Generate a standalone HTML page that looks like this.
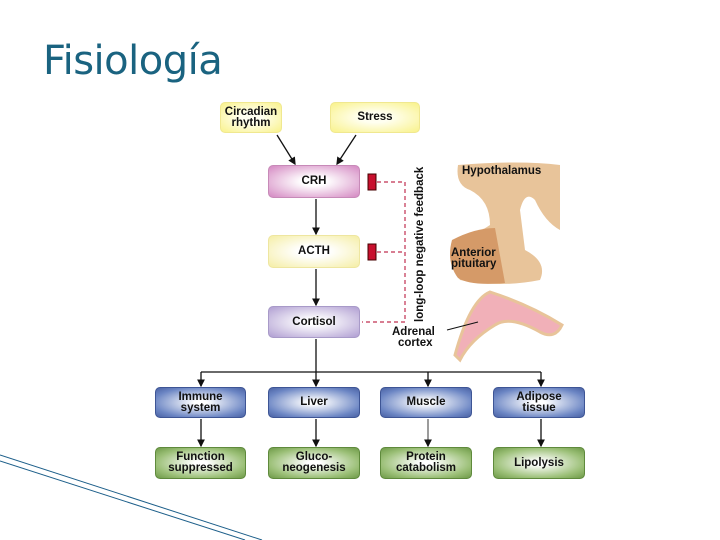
<!DOCTYPE html>
<html><head><meta charset="utf-8"><style>
body{margin:0;width:720px;height:540px;background:#fff;position:relative;overflow:hidden;font-family:"Liberation Sans",sans-serif}
.t{position:absolute;left:43px;top:38px;font-size:40px;color:#1a6380;font-family:"DejaVu Sans","Liberation Sans",sans-serif;letter-spacing:-0.5px}
.b{position:absolute;display:flex;align-items:center;justify-content:center;text-align:center;font-weight:bold;font-size:11.5px;line-height:11px;border-radius:5px;box-sizing:border-box;color:#111}
.y{background:radial-gradient(ellipse at center,#fffff0 25%,#f9f28a 100%);border:1px solid #f0e890}
.p{background:radial-gradient(ellipse at center,#fff 20%,#d488c2 100%);border:1px solid #c78ab8}
.a{background:radial-gradient(ellipse at center,#fff 25%,#f5eea5 100%);border:1px solid #eee6a0}
.v{background:radial-gradient(ellipse at center,#fff 15%,#b09ed2 100%);border:1px solid #a89ac8}
.bl{background:radial-gradient(ellipse at center,#fff 10%,#6c86c4 75%,#4a62a4 100%);border:1px solid #3e5595}
.g{background:radial-gradient(ellipse at center,#fff 10%,#9cc078 70%,#6e9a48 100%);border:1px solid #5f8a3c}
</style></head><body>
<div class="t">Fisiología</div>
<svg width="720" height="540" style="position:absolute;left:0;top:0">
<defs><marker id="m" markerWidth="6" markerHeight="6" refX="5" refY="3" orient="auto"><path d="M0,0L6,3L0,6z" fill="#111"/></marker></defs>
<g stroke="#111" stroke-width="1.3" fill="none">
<line x1="277" y1="135" x2="295" y2="164" marker-end="url(#m)"/>
<line x1="356" y1="135" x2="337" y2="164" marker-end="url(#m)"/>
<line x1="316" y1="199" x2="316" y2="234" marker-end="url(#m)"/>
<line x1="316" y1="269" x2="316" y2="305" marker-end="url(#m)"/>
<line x1="316" y1="339" x2="316" y2="386" marker-end="url(#m)"/>
<line x1="201" y1="372" x2="541" y2="372"/>
<line x1="201" y1="372" x2="201" y2="386" marker-end="url(#m)"/>
<line x1="428" y1="372" x2="428" y2="386" marker-end="url(#m)"/>
<line x1="541" y1="372" x2="541" y2="386" marker-end="url(#m)"/>
<line x1="201" y1="419" x2="201" y2="446" marker-end="url(#m)"/>
<line x1="316" y1="419" x2="316" y2="446" marker-end="url(#m)"/>
<line x1="428" y1="419" x2="428" y2="446" marker-end="url(#m)" stroke="#666"/>
<line x1="541" y1="419" x2="541" y2="446" marker-end="url(#m)"/>
</g>
<g stroke="#c03050" stroke-width="1.2" stroke-dasharray="4,3" fill="none">
<path d="M377,182H405V322H362"/><path d="M377,252H405"/>
</g>
<rect x="368" y="174" width="8" height="16" fill="#c8102e" stroke="#400" stroke-width="1"/>
<rect x="368" y="244" width="8" height="16" fill="#c8102e" stroke="#400" stroke-width="1"/>
<text transform="translate(423,322) rotate(-90)" font-size="11.5" font-weight="bold" fill="#111" font-family="Liberation Sans">long-loop negative feedback</text>
<path d="M458,165 Q520,160 560,165 L560,230 Q545,222 535,200 Q525,190 520,210 L525,250 Q548,262 540,280 Q500,288 460,280 Q448,260 455,245 Q475,235 490,225 Q490,200 470,190 Q455,185 458,165z" fill="#e8c49a"/>
<path d="M452,240 Q475,228 495,228 L505,283 Q470,286 458,278 Q446,262 452,240z" fill="#d59a68"/>
<path d="M455,355 Q470,300 490,292 Q530,305 562,325 Q555,340 540,332 Q510,315 495,325 Q470,340 460,360z" fill="#f1b0b8" stroke="#e8c49a" stroke-width="3"/>
<line x1="447" y1="330" x2="478" y2="322" stroke="#111" stroke-width="1"/>
<g font-size="11.5" font-weight="bold" fill="#111" font-family="Liberation Sans">
<text x="462" y="174">Hypothalamus</text>
<text x="451" y="256">Anterior</text><text x="451" y="267">pituitary</text>
<text x="392" y="335">Adrenal</text><text x="398" y="346">cortex</text>
</g>
<g stroke="#1d5f8a" stroke-width="1" fill="none">
<line x1="0" y1="455" x2="262" y2="540"/><line x1="0" y1="461" x2="245" y2="540"/>
</g>
</svg>
<div class="b y" style="left:220px;top:102px;width:62px;height:31px">Circadian<br>rhythm</div>
<div class="b y" style="left:330px;top:102px;width:90px;height:31px">Stress</div>
<div class="b p" style="left:268px;top:165px;width:92px;height:33px">CRH</div>
<div class="b a" style="left:268px;top:235px;width:92px;height:33px">ACTH</div>
<div class="b v" style="left:268px;top:306px;width:92px;height:32px">Cortisol</div>
<div class="b bl" style="left:155px;top:387px;width:91px;height:31px">Immune<br>system</div>
<div class="b bl" style="left:268px;top:387px;width:92px;height:31px">Liver</div>
<div class="b bl" style="left:380px;top:387px;width:92px;height:31px">Muscle</div>
<div class="b bl" style="left:493px;top:387px;width:92px;height:31px">Adipose<br>tissue</div>
<div class="b g" style="left:155px;top:447px;width:91px;height:32px">Function<br>suppressed</div>
<div class="b g" style="left:268px;top:447px;width:92px;height:32px">Gluco-<br>neogenesis</div>
<div class="b g" style="left:380px;top:447px;width:92px;height:32px">Protein<br>catabolism</div>
<div class="b g" style="left:493px;top:447px;width:92px;height:32px">Lipolysis</div>
</body></html>
